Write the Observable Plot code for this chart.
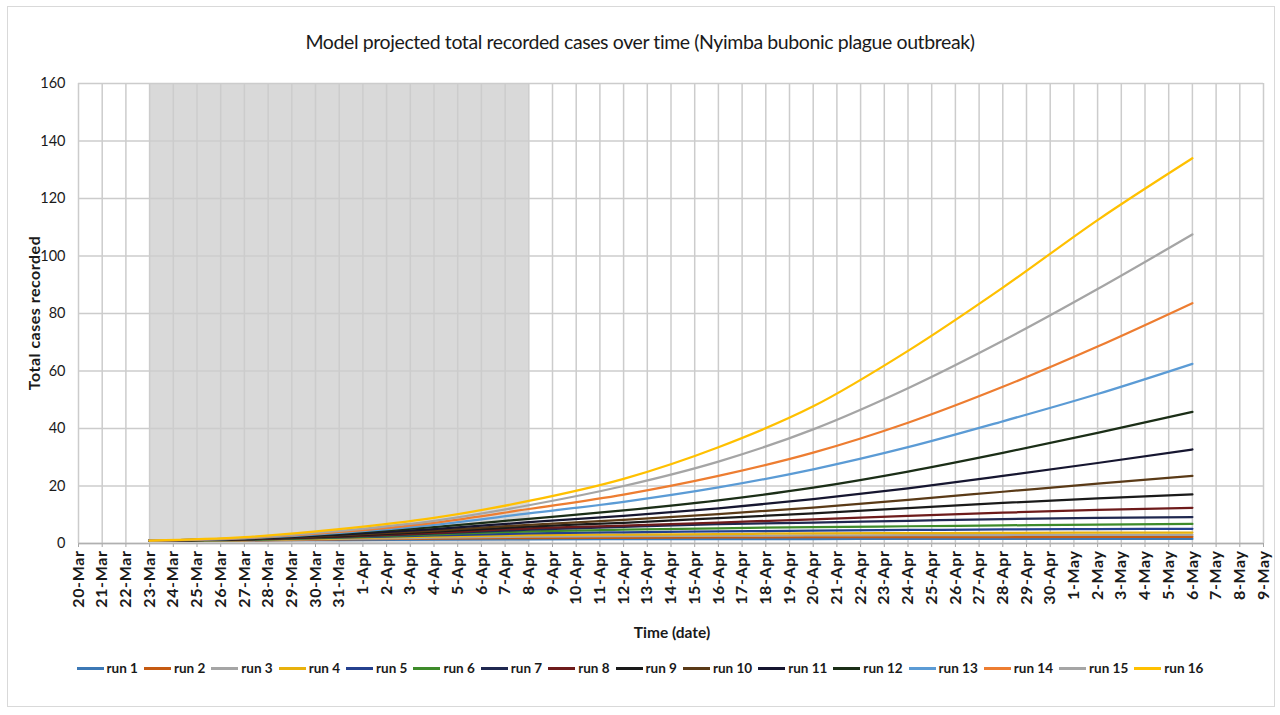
<!DOCTYPE html>
<html>
<head>
<meta charset="utf-8">
<script src="https://cdn.jsdelivr.net/npm/d3@7"></script>
<script src="https://cdn.jsdelivr.net/npm/@observablehq/plot@0.6"></script>
<style>
  body { margin: 0; background: #fff; font-family: Lato, "Open Sans", sans-serif; }
  #wrap { position: relative; width: 1280px; height: 715px; overflow: hidden; }
  #border { position: absolute; left: 7px; top: 6px; width: 1268px; height: 701px; border: 1px solid #d9d9d9; box-sizing: border-box; }
  #title { position: absolute; top: 30px; left: 0; width: 1280px; text-align: center; font-size: 19.5px; letter-spacing: -0.4px; color: #1a1a1a; }
  #chart { position: absolute; top: 70px; left: 0; }
  #chart g[aria-label="x-axis tick label"] { letter-spacing: 0.6px; }
  #ylabel { position: absolute; left: 33px; top: 313px; transform: translate(-50%, -50%) rotate(-90deg); white-space: nowrap; font-size: 16px; letter-spacing: 0.5px; font-weight: bold; color: #1a1a1a; }
  #xlabel { position: absolute; top: 623px; left: 672px; transform: translateX(-50%); font-size: 15.5px; font-weight: bold; color: #1a1a1a; white-space: nowrap; }
  #legend { position: absolute; top: 660px; left: 0; width: 1280px; display: flex; justify-content: center; font-size: 13.5px; font-weight: bold; color: #1a1a1a; }
  .item { display: flex; align-items: center; margin: 0 3px; }
  .sw { width: 27px; height: 3px; margin-right: 3px; }
</style>
</head>
<body>
<div id="wrap">
  <div id="border"></div>
  <div id="title">Model projected total recorded cases over time (Nyimba bubonic plague outbreak)</div>
  <div id="chart"></div>
  <div id="ylabel">Total cases recorded</div>
  <div id="xlabel">Time (date)</div>
  <div id="legend"></div>
</div>
<script>
// ---- data ----
const axisStart = "20-Mar";
const axisEnd = "9-May";
const shadeRange = ["23-Mar", "8-Apr"];
const yTicks = [0, 20, 40, 60, 80, 100, 120, 140, 160];
const sampleDates = ["23-Mar", "27-Mar", "31-Mar", "4-Apr", "8-Apr", "12-Apr", "16-Apr", "20-Apr", "24-Apr", "28-Apr", "2-May", "6-May"];
const runNames = ["run 1","run 2","run 3","run 4","run 5","run 6","run 7","run 8","run 9","run 10","run 11","run 12","run 13","run 14","run 15","run 16"];
const runColors = ["#3C78B5","#C55A11","#A5A5A5","#E8B10C","#24408E","#3E8B2A","#1F2850","#6E1B1B","#1A1A1A","#5A3A17","#161630","#1B2E17","#5B9BD5","#ED7D31","#A5A5A5","#FFC000"];

const run1  = [1.0, 1.1, 1.2, 1.35, 1.45, 1.5, 1.55, 1.55, 1.6, 1.6, 1.6, 1.6];
const run2  = [1.0, 1.1, 1.4, 1.7, 1.9, 2.0, 2.1, 2.2, 2.2, 2.25, 2.3, 2.3];
const run3  = [1.0, 1.2, 1.6, 2.0, 2.4, 2.6, 2.7, 2.8, 2.9, 2.95, 3.0, 3.0];
const run4  = [1.0, 1.2, 1.8, 2.4, 2.9, 3.1, 3.3, 3.5, 3.6, 3.7, 3.75, 3.8];
const run5  = [1.0, 1.3, 2.0, 2.8, 3.5, 3.9, 4.2, 4.5, 4.7, 4.9, 5.0, 5.1];
const run6  = [1.0, 1.3, 2.1, 3.2, 4.2, 4.8, 5.3, 5.7, 6.0, 6.3, 6.6, 6.8];
const run7  = [1.0, 1.4, 2.3, 3.5, 4.8, 5.8, 6.7, 7.3, 7.9, 8.5, 8.9, 9.2];
const run8  = [1.0, 1.4, 2.4, 3.7, 5.3, 6.2, 7.3, 8.4, 9.6, 10.7, 11.7, 12.4];
const run9  = [1.0, 1.5, 2.6, 4.1, 5.9, 7.2, 8.8, 10.5, 12.3, 14.1, 15.7, 17.1];
const run10 = [1.0, 1.5, 2.8, 4.5, 6.5, 8.2, 10.2, 12.5, 15.2, 18.0, 20.8, 23.5];
const run11 = [1.0, 1.6, 3.1, 5.0, 7.4, 9.6, 12.2, 15.4, 19.2, 23.5, 28.0, 32.7];
const run12 = [1.0, 1.7, 3.4, 5.7, 8.6, 11.5, 15.0, 19.4, 25.0, 31.5, 38.5, 45.8];
const run13 = [1.0, 1.8, 3.7, 6.5, 10.5, 14.5, 19.5, 25.8, 33.5, 42.5, 52.0, 62.5];
const run14 = [1.0, 1.9, 4.0, 7.2, 12.0, 17.0, 23.5, 31.6, 42.0, 54.5, 68.5, 83.6];
const run15 = [1.0, 2.0, 4.4, 7.9, 13.3, 20.0, 28.5, 39.7, 54.0, 70.5, 88.5, 107.5];
const run16 = [1.0, 2.2, 5.0, 8.9, 14.8, 22.5, 33.5, 47.7, 67.0, 89.0, 112.5, 134.0];
const runs = [run1, run2, run3, run4, run5, run6, run7, run8, run9, run10, run11, run12, run13, run14, run15, run16];

// ---- build ----
const parse = d3.utcParse("%d-%b-%Y");
const toDate = s => parse(s + "-2020");
const allDays = d3.utcDay.range(toDate(axisStart), d3.utcDay.offset(toDate(axisEnd), 1));
const rows = runs.flatMap((vals, i) => sampleDates.map((d, j) => ({run: runNames[i], date: toDate(d), value: vals[j]})));
const shade = [{x1: toDate(shadeRange[0]), x2: toDate(shadeRange[1]), y1: yTicks[0], y2: yTicks[yTicks.length - 1]}];

const chart = Plot.plot({
  width: 1280,
  height: 580,
  marginTop: 13,
  marginLeft: 78,
  marginRight: 17,
  marginBottom: 107,
  style: {fontFamily: "Lato, 'Open Sans', sans-serif", background: "transparent", overflow: "visible", color: "#1a1a1a"},
  x: {type: "utc", domain: [toDate(axisStart), toDate(axisEnd)]},
  y: {domain: [yTicks[0], yTicks[yTicks.length - 1]]},
  color: {domain: runNames, range: runColors},
  marks: [
    Plot.rect(shade, {x1: "x1", x2: "x2", y1: "y1", y2: "y2", fill: "#d9d9d9"}),
    Plot.gridX(allDays, {stroke: "#cccccc", strokeOpacity: 1, strokeWidth: 1.5}),
    Plot.gridY(yTicks, {stroke: "#cccccc", strokeOpacity: 1, strokeWidth: 1.5}),
    Plot.axisY(yTicks, {tickSize: 0, tickPadding: 13, fontSize: 14.5, label: null, fill: "#1a1a1a"}),
    Plot.axisX(allDays, {tickFormat: d3.utcFormat("%-d-%b"), tickRotate: -90, tickSize: 4, tickPadding: 3, fontSize: 16, fontWeight: "bold", label: null, stroke: "#a6a6a6", fill: "#1a1a1a"}),
    Plot.ruleY([0], {stroke: "#b0b0b0", strokeWidth: 1.5}),
    Plot.line(rows, {x: "date", y: "value", z: "run", stroke: "run", strokeWidth: 2.25, curve: "monotone-x"})
  ]
});
document.getElementById("chart").appendChild(chart);

const legend = document.getElementById("legend");
runNames.forEach((n, i) => {
  const it = document.createElement("div");
  it.className = "item";
  const sw = document.createElement("div");
  sw.className = "sw";
  sw.style.background = runColors[i];
  const t = document.createElement("span");
  t.textContent = n;
  it.appendChild(sw);
  it.appendChild(t);
  legend.appendChild(it);
});
</script>
</body>
</html>
